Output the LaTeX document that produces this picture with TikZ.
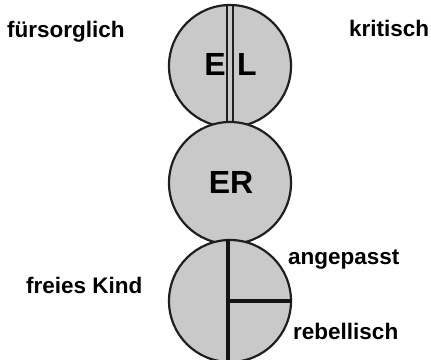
\documentclass[tikz,border=0pt]{standalone}
\usepackage{fontspec}
\setmainfont{Liberation Sans}
\begin{document}
\begin{tikzpicture}[x=1pt,y=1pt,
  ego/.style={circle, draw=black!88, line width=2.2pt, fill=black!21, minimum size=122pt, inner sep=0pt},
  lab/.style={font=\fontsize{22.5}{26}\selectfont\bfseries, inner sep=0pt, anchor=base west},
  big/.style={font=\fontsize{32}{36}\selectfont\bfseries, inner sep=0pt, anchor=base},
  thin/.style={draw=black!88, line width=1.8pt},
  thick/.style={draw=black!92, line width=3.6pt}]
\useasboundingbox (0,0) rectangle (431,359);
\node[ego] (top) at (230,293) {};
\draw[thin] ([xshift=-3pt]top.north) -- ([xshift=-3pt]top.south);
\draw[thin] ([xshift=3pt]top.north) -- ([xshift=3pt]top.south);
\node[ego] (mid) at (230,176) {};
\node[ego] (bot) at (230,58) {};
\draw[thick] ([xshift=-2pt]bot.north) -- ([xshift=-2pt]bot.south);
\draw[thick] ([xshift=-2pt]bot.center) -- (bot.east);
\node[big] (e) at (215,283) {E};
\node[big] (l) at (247,283) {L};
\node[big] (er) at (231,165) {ER};
\node[lab] (f) at (7,321) {fürsorglich};
\node[lab] (k) at (349,322) {kritisch};
\node[lab] (fk) at (26,66) {freies Kind};
\node[lab] (a) at (288,94) {angepasst};
\node[lab] (r) at (293,20) {rebellisch};
\end{tikzpicture}
\end{document}
